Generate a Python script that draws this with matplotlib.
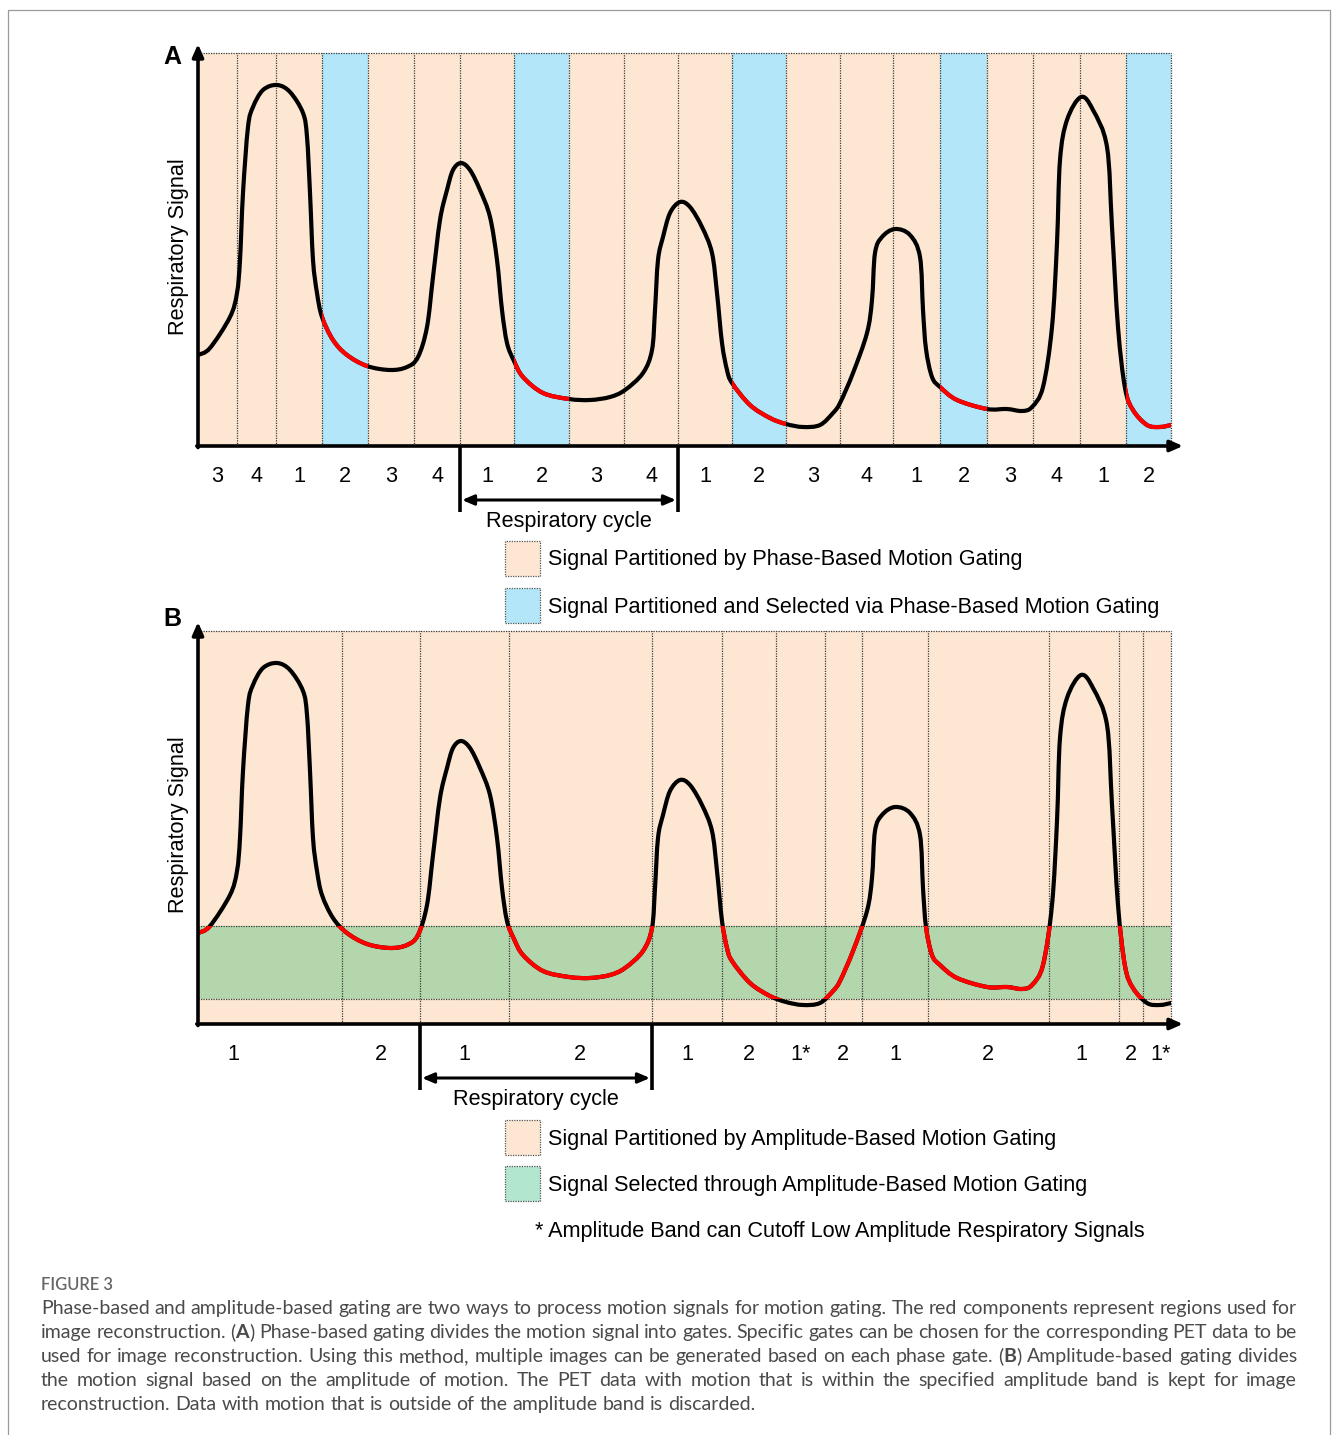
import numpy as np
import matplotlib
matplotlib.use('Agg')
import matplotlib.pyplot as plt
from matplotlib.path import Path
from matplotlib.patches import PathPatch, Rectangle

# ---------------- data (arbitrary units) ----------------
signal_t = [0, 12, 32, 39, 42, 45, 50, 55, 65, 79, 92, 105, 109, 112, 115, 119, 124, 135, 149, 169,
            192, 209, 220, 229, 235, 242, 249, 255, 263, 272, 282, 292, 299, 304, 309, 316, 325, 345, 371, 392,
            412, 427, 445, 454, 457, 460, 465, 472, 482, 492, 504, 514, 519, 524, 529, 534, 552, 572, 588, 605,
            622, 635, 642, 655, 669, 674, 677, 684, 697, 712, 722, 725, 728, 734, 742, 759, 789, 809, 824, 834,
            845, 854, 859, 862, 869, 883, 895, 909, 914, 920, 927, 935, 949, 962, 973]
signal_s = [91, 98, 129, 153, 186, 253, 319, 339, 356, 361, 354, 333, 309, 253, 186, 153, 129, 106, 91, 80,
            76, 79, 89, 119, 169, 226, 256, 276, 283, 276, 256, 229, 186, 136, 103, 85, 69, 53, 47, 46,
            49, 56, 73, 96, 136, 186, 209, 233, 244, 239, 219, 193, 153, 103, 76, 63, 41, 28, 22, 19,
            21, 33, 43, 73, 113, 146, 193, 209, 217, 211, 189, 136, 97, 69, 59, 46, 37, 37, 35, 39,
            59, 119, 203, 286, 326, 349, 336, 299, 219, 119, 58, 36, 21, 19, 21]

phase_bounds = [0, 39, 78, 124, 170, 216, 262, 316, 371, 426, 480, 534, 588, 642, 695, 742, 789, 835,
                882, 928, 973]
phase_labels = ['3', '4', '1', '2', '3', '4', '1', '2', '3', '4', '1', '2', '3', '4', '1', '2', '3', '4',
                '1', '2']
selected_phase = '2'
phase_cycle = [262, 480]

amp_bounds = [0, 144, 222, 311, 454, 524, 578, 627, 664, 730, 851, 921, 945, 973]
amp_labels = ['1', '2', '1', '2', '1', '2', '1*', '2', '1', '2', '1', '2', '1*']
amp_label_t = [35, 183, 266, 382, 489, 551, 603, 645, 697, 790, 883, 933, 963]
amp_cycle = [222, 454]
band_low, band_high = 25, 98

T_MAX, S_MAX = 973, 393

# ---------------- style ----------------
PEACH = '#FDE7D2'
BLUE = '#B2E6F8'
GREEN = '#B4D6AC'
MINT = '#B2E6CE'
DOT = (0, (1, 1))
FS = 15.6

W, H = 1333, 1435
plt.rcParams['font.family'] = ['Liberation Sans', 'DejaVu Sans']
fig = plt.figure(figsize=(W / 100, H / 100), dpi=100)


def fx(x):
    return x / W


def fy(y):
    return 1 - y / H


# smooth path through the read points (Catmull-Rom -> cubic Bezier)
pts = np.column_stack([signal_t, signal_s]).astype(float)
P = np.vstack([pts[0], pts, pts[-1]])
verts = [pts[0]]
codes = [Path.MOVETO]
for i in range(1, len(P) - 2):
    p0, p1, p2, p3 = P[i - 1], P[i], P[i + 1], P[i + 2]
    verts += [p1 + (p2 - p0) / 6.0, p2 - (p3 - p1) / 6.0, p2]
    codes += [Path.CURVE4] * 3
signal_path = Path(np.array(verts), codes)


def add_curve(ax, color, z, clip=None):
    pp = PathPatch(signal_path, fill=False, ec=color, lw=3.0, capstyle='round',
                   joinstyle='round', zorder=z)
    ax.add_patch(pp)
    if clip is not None:
        pp.set_clip_path(clip)
    return pp


def make_axes(top_px):
    ax = fig.add_axes([fx(198), fy(top_px + S_MAX), T_MAX / W, S_MAX / H])
    ax.set_xlim(0, T_MAX)
    ax.set_ylim(0, S_MAX)
    ax.axis('off')
    return ax


def frame(ax, bounds, cycle, ylabel_s=199):
    ax.vlines(bounds[1:], 0, S_MAX, colors='#3a3a3a', linestyles=DOT, lw=0.9, zorder=2, clip_on=False)
    ax.hlines(S_MAX, 0, T_MAX, colors='#3a3a3a', linestyles=DOT, lw=0.9, zorder=2, clip_on=False)
    ax.annotate('', xy=(0, 402), xytext=(0, -1.5),
                arrowprops=dict(arrowstyle='-|>,head_length=0.75,head_width=0.33', lw=2.6, color='k',
                                shrinkA=0, shrinkB=0), annotation_clip=False, zorder=6)
    ax.annotate('', xy=(985, 0), xytext=(-1.2, 0),
                arrowprops=dict(arrowstyle='-|>,head_length=0.75,head_width=0.33', lw=2.6, color='k',
                                shrinkA=0, shrinkB=0), annotation_clip=False, zorder=6)
    ax.vlines(cycle, -66, 0, colors='k', lw=2.6, clip_on=False, zorder=6)
    ax.annotate('', xy=(cycle[1] - 2, -54), xytext=(cycle[0] + 2, -54),
                arrowprops=dict(arrowstyle='<|-|>,head_length=0.7,head_width=0.3', lw=2.2, color='k',
                                shrinkA=0, shrinkB=0), annotation_clip=False)
    ax.text(-20, ylabel_s, 'Respiratory Signal', rotation=90, ha='center', va='center', fontsize=FS,
            clip_on=False)


# ---------------- panel A ----------------
axA = make_axes(53)
widths = np.diff(phase_bounds)
colsA = [BLUE if lab == selected_phase else PEACH for lab in phase_labels]
barsA = axA.bar(phase_bounds[:-1], [S_MAX] * len(widths), width=widths, align='edge', color=colsA,
                lw=0, zorder=0)
frame(axA, phase_bounds, phase_cycle)
add_curve(axA, 'black', 4)
for rect, lab in zip(barsA.patches, phase_labels):
    if lab == selected_phase:
        add_curve(axA, '#FF0000', 5, clip=rect)
centersA = (np.array(phase_bounds[:-1]) + np.array(phase_bounds[1:])) / 2
for c, lab in zip(centersA, phase_labels):
    axA.text(c, -30, lab, ha='center', va='center', fontsize=FS, clip_on=False)
axA.text((phase_cycle[0] + phase_cycle[1]) / 2, -76, 'Respiratory cycle', ha='center', va='center',
         fontsize=FS, clip_on=False)

# ---------------- panel B ----------------
axB = make_axes(631)
widthsB = np.diff(amp_bounds)
axB.bar(amp_bounds[:-1], [S_MAX] * len(widthsB), width=widthsB, align='edge', color=PEACH, lw=0, zorder=0)
band = axB.bar([0], [band_high - band_low], width=T_MAX, bottom=band_low, align='edge', color=GREEN,
               lw=0, zorder=1).patches[0]
axB.hlines([band_low, band_high], 0, T_MAX, colors='#3a3a3a', linestyles=DOT, lw=0.9, zorder=2)
frame(axB, amp_bounds, amp_cycle)
add_curve(axB, 'black', 4)
add_curve(axB, '#FF0000', 5, clip=band)
for c, lab in zip(amp_label_t, amp_labels):
    axB.text(c, -30, lab, ha='center', va='center', fontsize=FS, clip_on=False)
axB.text(338, -76, 'Respiratory cycle', ha='center', va='center', fontsize=FS, clip_on=False)

# ---------------- panel letters ----------------
fig.text(fx(172), fy(57), 'A', fontsize=18, fontweight='bold', ha='center', va='center')
fig.text(fx(172), fy(619), 'B', fontsize=18, fontweight='bold', ha='center', va='center')

# ---------------- legends ----------------
legend_items = [(541, PEACH, 'Signal Partitioned by Phase-Based Motion Gating'),
                (588, BLUE, 'Signal Partitioned and Selected via Phase-Based Motion Gating'),
                (1120, PEACH, 'Signal Partitioned by Amplitude-Based Motion Gating'),
                (1166, MINT, 'Signal Selected through Amplitude-Based Motion Gating')]
for top, col, txt in legend_items:
    fig.add_artist(Rectangle((fx(505), fy(top + 35)), 35 / W, 35 / H, transform=fig.transFigure,
                             fc=col, ec='#555555', ls=DOT, lw=0.9))
    fig.text(fx(548), fy(top + 19), txt, fontsize=FS, ha='left', va='center')
fig.text(fx(535), fy(1231), '* Amplitude Band can Cutoff Low Amplitude Respiratory Signals', fontsize=FS,
         ha='left', va='center')

# ---------------- outer frame ----------------
fig.add_artist(plt.Line2D([fx(8), fx(8), fx(1330), fx(1330)], [0, fy(10), fy(10), 0],
                          transform=fig.transFigure, color='#9a9a9a', lw=0.9))

# ---------------- caption ----------------
CAP_FONT = ['Lato', 'DejaVu Sans']
CAP_COL = '#4a4a4a'
caption_lines = [
    "Phase-based and amplitude-based gating are two ways to process motion signals for motion gating. The red components represent regions used for",
    "image reconstruction. (A) Phase-based gating divides the motion signal into gates. Specific gates can be chosen for the corresponding PET data to be",
    "used for image reconstruction. Using this method, multiple images can be generated based on each phase gate. (B) Amplitude-based gating divides",
    "the motion signal based on the amplitude of motion. The PET data with motion that is within the specified amplitude band is kept for image",
    "reconstruction. Data with motion that is outside of the amplitude band is discarded.",
]
renderer = fig.canvas.get_renderer()


def seg_width(txt, weight, size):
    t = fig.text(0, 0, txt, fontsize=size, family=CAP_FONT, fontweight=weight)
    w = t.get_window_extent(renderer).width
    t.remove()
    return w


# fit the caption size so the (unjustified) last line matches the reference width
CAP_FS = round(10.0 * 716.0 / seg_width(caption_lines[-1], 'normal', 10.0), 1)

fig.text(fx(41), fy(1290), 'FIGURE 3', fontsize=CAP_FS * 0.85, color='#666666', family=CAP_FONT,
         fontweight='semibold', ha='left', va='baseline')


def word_segments(w):
    for tag in ('(A)', '(B)'):
        if w.startswith(tag):
            return [('(', 'normal'), (tag[1], 'bold'), (')' + w[3:], 'normal')]
    return [(w, 'normal')]


space_w = seg_width('n n', 'normal', CAP_FS) - seg_width('nn', 'normal', CAP_FS)
X0, X1 = 41, 1297
for li, line in enumerate(caption_lines):
    words = line.split(' ')
    segs = [word_segments(w) for w in words]
    widths_w = [sum(seg_width(s, wt, CAP_FS) for s, wt in sg) for sg in segs]
    last = li == len(caption_lines) - 1
    gap = space_w if last else (X1 - X0 - sum(widths_w)) / (len(words) - 1)
    base = 1314 + 24 * li
    x = X0
    for sg, ww in zip(segs, widths_w):
        xx = x
        for s, wt in sg:
            fig.text(fx(xx), fy(base), s, fontsize=CAP_FS, family=CAP_FONT, fontweight=wt, color=CAP_COL,
                     ha='left', va='baseline')
            xx += seg_width(s, wt, CAP_FS)
        x += ww + gap

fig.savefig('out.png', dpi=100, facecolor='white')
